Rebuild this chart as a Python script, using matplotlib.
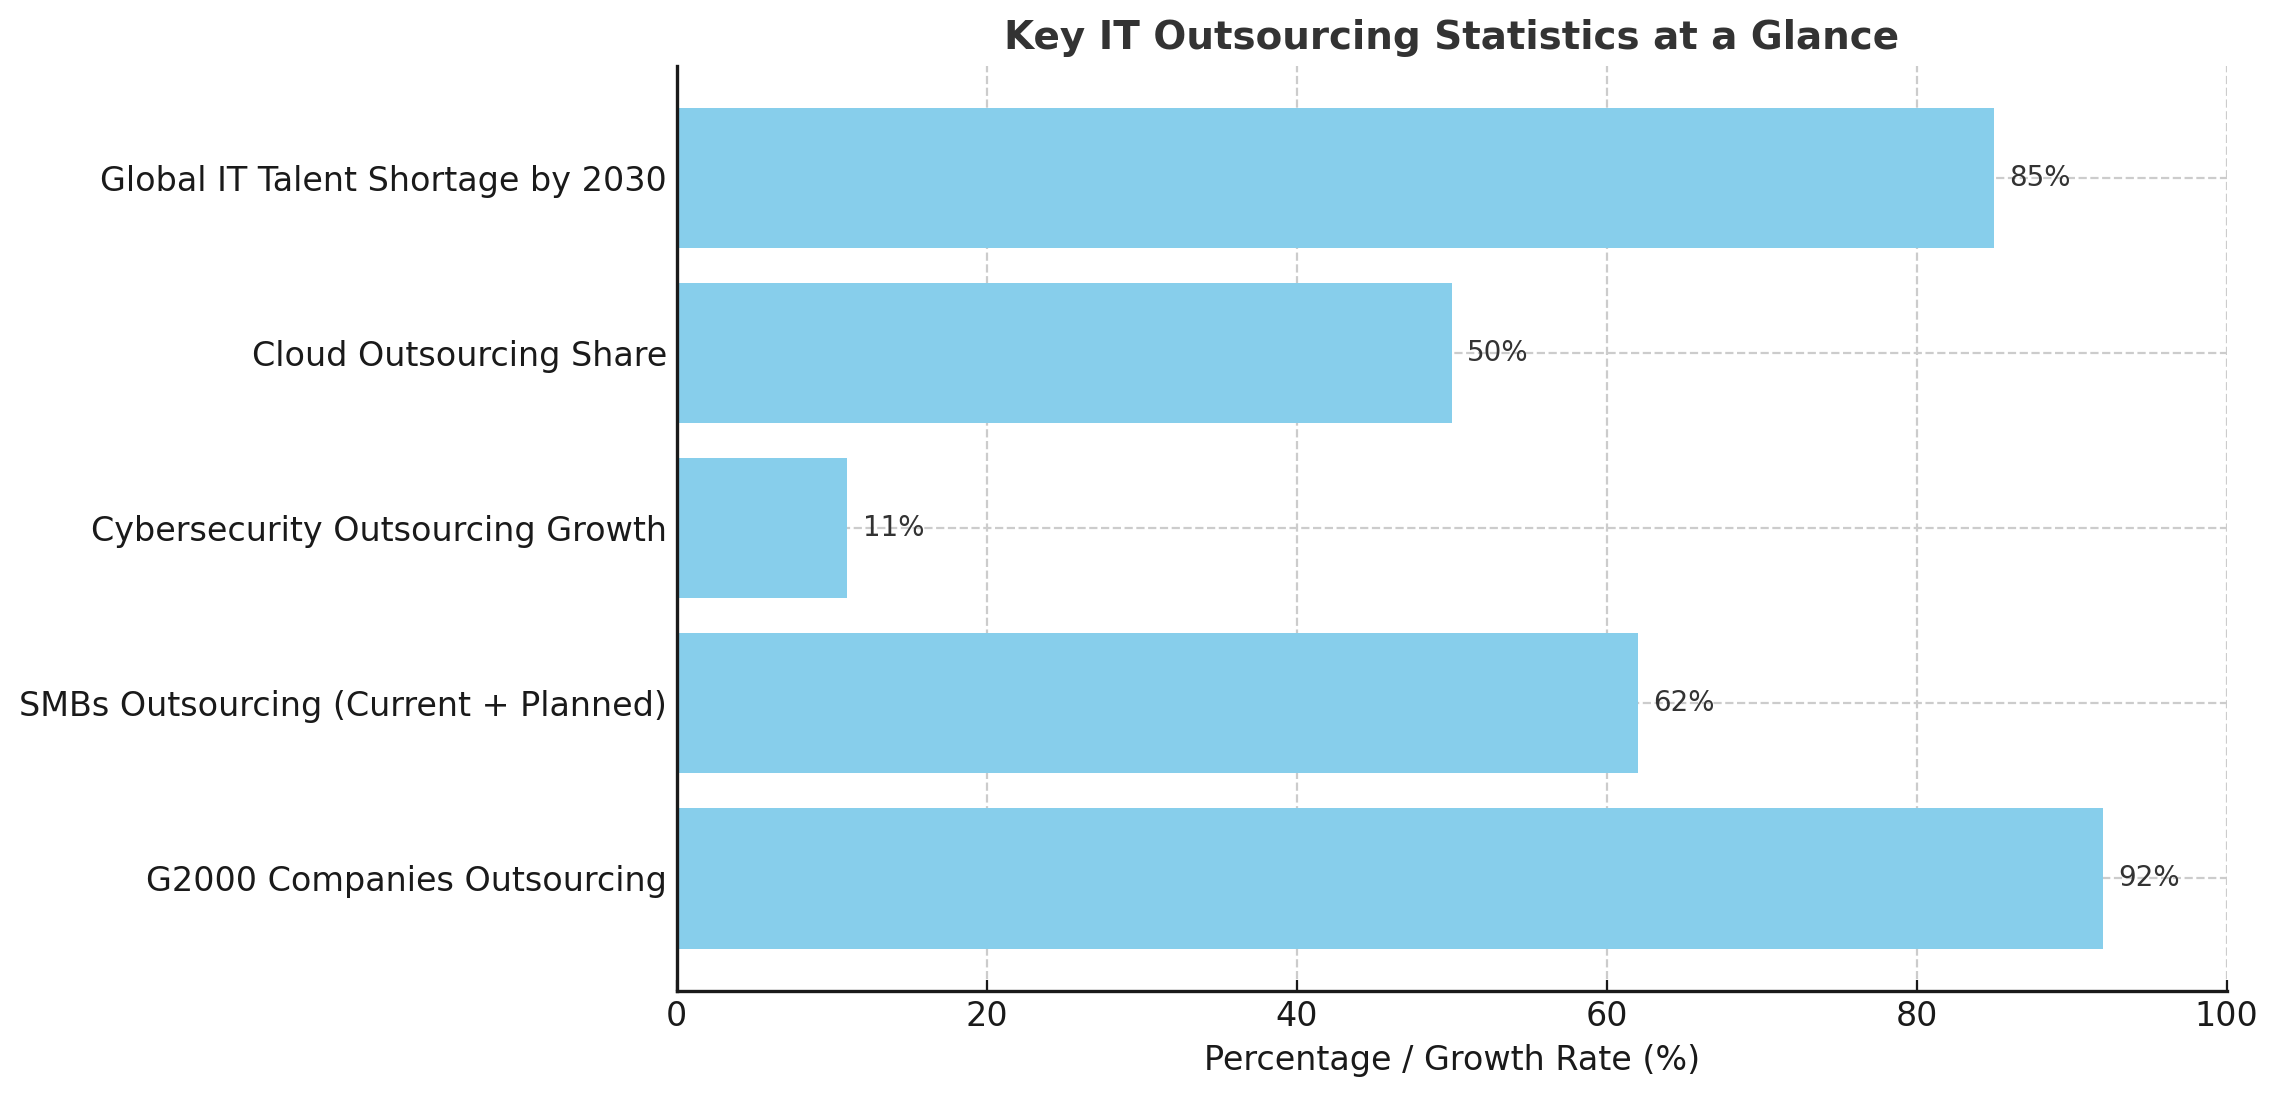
import matplotlib.pyplot as plt

# Datos de la grafica
categorias = [
    "G2000 Companies Outsourcing",
    "SMBs Outsourcing (Current + Planned)",
    "Cybersecurity Outsourcing Growth",
    "Cloud Outsourcing Share",
    "Global IT Talent Shortage by 2030",
]
valores = [92, 62, 11, 50, 85]

fig, ax = plt.subplots(figsize=(11.395, 5.485), dpi=200)
fig.subplots_adjust(left=0.297, right=0.977, top=0.940, bottom=0.097)

bars = ax.barh(categorias, valores, color='skyblue', height=0.8, zorder=2)

# Etiquetas con el porcentaje al lado de cada barra
for bar, val in zip(bars, valores):
    ax.text(bar.get_width() + 1, bar.get_y() + bar.get_height() / 2, f"{val}%",
            va='center', ha='left', fontsize=10, color='#333333', zorder=3)

ax.set_xlim(0, 100)
ax.set_title("Key IT Outsourcing Statistics at a Glance", fontsize=14,
             fontweight='bold', color='#333333')
ax.set_xlabel("Percentage / Growth Rate (%)", fontsize=12, color='#1a1a1a')
ax.tick_params(axis='both', direction='in', labelsize=12, colors='#1a1a1a', length=4)
ax.grid(True, linestyle='--', color='#cccccc', linewidth=0.8, zorder=0)
ax.set_axisbelow(True)
for s in ['top', 'right']:
    ax.spines[s].set_visible(False)
for s in ['left', 'bottom']:
    ax.spines[s].set_color('#1a1a1a')
    ax.spines[s].set_linewidth(1.2)

plt.savefig("out.png", dpi=200)
